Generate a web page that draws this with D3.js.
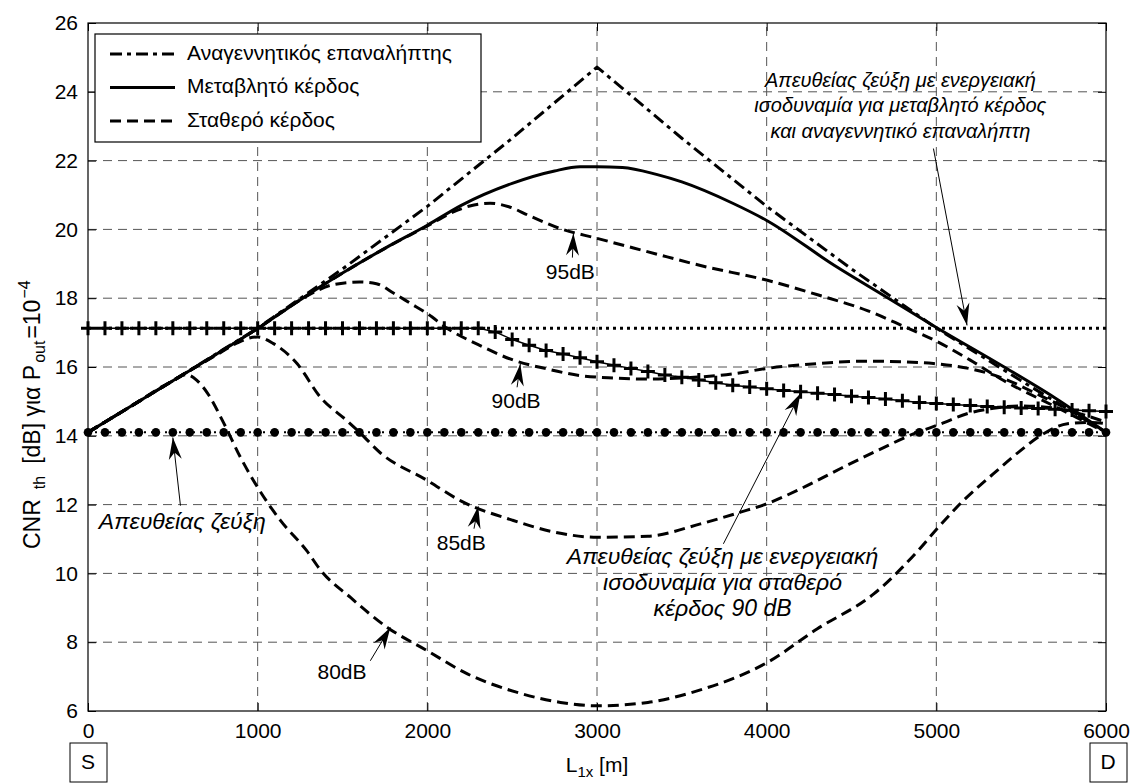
<!DOCTYPE html>
<html>
<head>
<meta charset="utf-8">
<script src="https://cdn.jsdelivr.net/npm/d3@7"></script>
<style>
  html, body { margin: 0; padding: 0; background: #fff; }
  svg { display: block; font-family: Arial, "Liberation Sans", Helvetica, sans-serif; }
</style>
</head>
<body>
<svg id="chart" width="1137" height="783"></svg>
<script>
// ---------------- data ----------------
const xTicks = [0, 1000, 2000, 3000, 4000, 5000, 6000];
const yTicks = [6, 8, 10, 12, 14, 16, 18, 20, 22, 24, 26];

// Regenerative repeater (dash-dot)
const regenX = [0, 500, 1000, 1500, 2000, 2500, 3000, 3500, 4000, 4500, 5000, 5500, 6000];
const regenY = [14.1, 15.6, 17.13, 18.85, 20.67, 22.65, 24.72, 22.65, 20.67, 18.85, 17.13, 15.6, 14.1];

// Variable gain (solid)
const varX = [0, 250, 500, 750, 1000, 1250, 1500, 1750, 2000, 2200, 2500, 2750, 2900, 3000, 3150, 3350, 3500, 3800, 4000, 4400, 4700, 5000, 5400, 5700, 6000];
const varY = [14.1, 14.85, 15.6, 16.35, 17.12, 17.95, 18.73, 19.45, 20.12, 20.7, 21.34, 21.7, 21.82, 21.82, 21.8, 21.6, 21.38, 20.76, 20.26, 18.95, 18.05, 17.15, 16.0, 15.1, 14.1];

// Fixed gain (dashed)
const fix95X = [0, 250, 500, 750, 1000, 1250, 1500, 1750, 2000, 2150, 2250, 2370, 2480, 2600, 2785, 3000, 3215, 3414, 3610, 4004, 4300, 4593, 4800, 5000, 5200, 5378, 5700, 6000];
const fix95Y = [14.1, 14.85, 15.6, 16.35, 17.12, 17.95, 18.73, 19.45, 20.1, 20.5, 20.68, 20.76, 20.66, 20.4, 20.02, 19.74, 19.46, 19.2, 18.95, 18.52, 18.1, 17.64, 17.2, 16.75, 16.2, 15.66, 14.85, 14.1];

const fix90X = [0, 250, 500, 750, 1000, 1250, 1350, 1450, 1600, 1700, 1800, 1900, 2000, 2118, 2300, 2507, 2700, 2902, 3100, 3300, 3500, 3800, 4004, 4300, 4593, 4800, 4983, 5200, 5378, 5600, 5800, 6000];
const fix90Y = [14.1, 14.85, 15.6, 16.35, 17.12, 17.95, 18.22, 18.4, 18.47, 18.42, 18.15, 17.85, 17.55, 17.12, 16.65, 16.2, 15.95, 15.75, 15.68, 15.65, 15.68, 15.8, 15.96, 16.1, 16.17, 16.15, 16.1, 15.95, 15.7, 15.2, 14.7, 14.1];

const fix85X = [0, 250, 500, 750, 880, 950, 1000, 1093, 1232, 1370, 1526, 1590, 1724, 2000, 2200, 2500, 2750, 3000, 3300, 3610, 3846, 4004, 4200, 4436, 4652, 4868, 5029, 5180, 5337, 5500, 5700, 6000];
const fix85Y = [14.1, 14.85, 15.6, 16.33, 16.7, 16.84, 16.87, 16.68, 16.1, 15.12, 14.44, 14.15, 13.5, 12.7, 12.1, 11.55, 11.2, 11.05, 11.08, 11.44, 11.78, 12.03, 12.46, 13.05, 13.57, 14.06, 14.35, 14.64, 14.8, 14.87, 14.8, 14.4];

const fix80X = [0, 250, 500, 580, 640, 703, 801, 898, 1000, 1134, 1289, 1370, 1547, 1764, 2000, 2236, 2530, 2785, 3000, 3300, 3600, 4000, 4299, 4633, 4892, 5010, 5160, 5337, 5496, 5632, 5773, 5908, 6000];
const fix80Y = [14.1, 14.85, 15.6, 15.78, 15.62, 15.25, 14.36, 13.38, 12.5, 11.54, 10.66, 10.1, 9.3, 8.43, 7.75, 7.08, 6.54, 6.25, 6.15, 6.25, 6.6, 7.4, 8.39, 9.41, 10.66, 11.33, 12.12, 12.9, 13.57, 14.06, 14.35, 14.39, 14.35];

// Marker positions (every 100 m)
const markerX = [0,100,200,300,400,500,600,700,800,900,1000,1100,1200,1300,1400,1500,1600,1700,1800,1900,2000,2100,2200,2300,2400,2500,2600,2700,2800,2900,3000,3100,3200,3300,3400,3500,3600,3700,3800,3900,4000,4100,4200,4300,4400,4500,4600,4700,4800,4900,5000,5100,5200,5300,5400,5500,5600,5700,5800,5900,6000];

// Direct link with energy equivalence for fixed gain 90 dB (plus markers)
const eqFixedY = [17.13,17.13,17.13,17.13,17.13,17.13,17.13,17.13,17.13,17.13,17.13,17.13,17.13,17.13,17.13,17.13,17.13,17.13,17.13,17.13,17.13,17.13,17.13,17.13,
  17.02,16.8,16.63,16.48,16.38,16.27,16.15,16.05,15.96,15.87,15.77,15.7,15.62,15.54,15.47,15.42,15.37,15.32,15.28,15.24,15.2,15.15,15.11,15.07,15.02,14.97,14.94,14.91,14.88,14.85,14.83,14.81,14.79,14.77,14.75,14.73,14.71];

// Direct link (big dots)
const directY = [14.1,14.1,14.1,14.1,14.1,14.1,14.1,14.1,14.1,14.1,14.1,14.1,14.1,14.1,14.1,14.1,14.1,14.1,14.1,14.1,14.1,14.1,14.1,14.1,14.1,14.1,14.1,14.1,14.1,14.1,14.1,
  14.1,14.1,14.1,14.1,14.1,14.1,14.1,14.1,14.1,14.1,14.1,14.1,14.1,14.1,14.1,14.1,14.1,14.1,14.1,14.1,14.1,14.1,14.1,14.1,14.1,14.1,14.1,14.1,14.1,14.1];

// Direct link with energy equivalence for variable gain and regenerative (dotted)
const eqVarX = [0, 6000];
const eqVarY = [17.13, 17.13];

const legendLabels = ["Αναγεννητικός επαναλήπτης", "Μεταβλητό κέρδος", "Σταθερό κέρδος"];

// Annotations: arrow = [tipX, tipY, tailX, tailY]
const gainLabels = [
  { text: "95dB", tx: 2843, ty: 18.71, arrow: [2861, 19.88, 2855, 19.18] },
  { text: "90dB", tx: 2523, ty: 14.98, arrow: [2548, 16.09, 2529, 15.41] },
  { text: "85dB", tx: 2200, ty: 10.85, arrow: [2300, 11.95, 2275, 11.3] },
  { text: "80dB", tx: 1497, ty: 7.08, arrow: [1782, 8.43, 1664, 7.46] }
];
const noteDirect = { lines: ["Απευθείας ζεύξη"], x: 556, y: [11.3], size: 23, arrow: [500, 13.95, 545, 11.97] };
const noteVar = { lines: ["Απευθείας ζεύξη με ενεργειακή", "ισοδυναμία για μεταβλητό κέρδος", "και αναγεννητικό επαναλήπτη"], x: 4788, y: [24.15, 23.41, 22.65], size: 20, arrow: [5181, 17.21, 4983, 22.35] };
const noteFixed = { lines: ["Απευθείας ζεύξη με ενεργειακή", "ισοδυναμία για σταθερό", "κέρδος 90 dB"], x: 3740, y: [10.28, 9.52, 8.76], size: 23, arrow: [4199, 15.23, 3745, 10.86] };

// ---------------- drawing ----------------
const W = 1137, H = 783;
const margin = { left: 88, right: 31, top: 23, bottom: 72 };
const svg = d3.select("#chart");
const x = d3.scaleLinear().domain([0, 6000]).range([margin.left, W - margin.right]);
const y = d3.scaleLinear().domain([6, 26]).range([H - margin.bottom, margin.top]);
const FS = 21;

// grid
const grid = svg.append("g");
grid.selectAll(".gx").data(xTicks.slice(1, -1)).join("line")
  .attr("x1", d => x(d)).attr("x2", d => x(d)).attr("y1", y(6)).attr("y2", y(26))
  .attr("stroke", "#555").attr("stroke-width", 1).attr("stroke-dasharray", "9,6");
grid.selectAll(".gy").data(yTicks.slice(1, -1)).join("line")
  .attr("y1", d => y(d)).attr("y2", d => y(d)).attr("x1", x(0)).attr("x2", x(6000))
  .attr("stroke", "#555").attr("stroke-width", 1).attr("stroke-dasharray", "9,6");

// axes
const axB = svg.append("g").attr("transform", `translate(0,${y(6)})`)
  .call(d3.axisBottom(x).tickValues(xTicks).tickSize(-8).tickPadding(12).tickFormat(d3.format("d")));
const axT = svg.append("g").attr("transform", `translate(0,${y(26)})`)
  .call(d3.axisTop(x).tickValues(xTicks).tickSize(-8).tickFormat(""));
const axL = svg.append("g").attr("transform", `translate(${x(0)},0)`)
  .call(d3.axisLeft(y).tickValues(yTicks).tickSize(-8).tickPadding(10));
const axR = svg.append("g").attr("transform", `translate(${x(6000)},0)`)
  .call(d3.axisRight(y).tickValues(yTicks).tickSize(-8).tickFormat(""));
[axB, axT, axL, axR].forEach(a => {
  a.select(".domain").remove();
  a.selectAll("line").attr("stroke", "#000").attr("stroke-width", 1);
  a.selectAll("text").attr("font-size", FS).attr("font-family", "Arial, 'Liberation Sans', sans-serif").attr("fill", "#000");
});
axB.selectAll("text").attr("dy", "0.71em");
svg.append("rect").attr("x", x(0)).attr("y", y(26)).attr("width", x(6000) - x(0)).attr("height", y(6) - y(26))
  .attr("fill", "none").attr("stroke", "#000").attr("stroke-width", 1.2);

// line generator
const lineGen = d3.line().x(d => x(d[0])).y(d => y(d[1]));
const zip = (a, b) => a.map((v, i) => [v, b[i]]);
const curves = svg.append("g");

function drawCurve(xs, ys, dash, curve, width) {
  curves.append("path")
    .attr("d", lineGen.curve(curve)(zip(xs, ys)))
    .attr("fill", "none").attr("stroke", "#000").attr("stroke-width", width || 3)
    .attr("stroke-dasharray", dash || null).attr("stroke-linejoin", "round");
}

// dotted 17.1 line
drawCurve(eqVarX, eqVarY, "3,4", d3.curveLinear, 3);
// direct link dotted line + dots
drawCurve(markerX, directY, "2,5", d3.curveLinear, 2);
curves.selectAll(".dot").data(zip(markerX, directY)).join("circle")
  .attr("cx", d => x(d[0])).attr("cy", d => y(d[1])).attr("r", 4.3).attr("fill", "#000");
// plus line
drawCurve(markerX, eqFixedY, null, d3.curveLinear, 1.5);
curves.selectAll(".plus").data(zip(markerX, eqFixedY)).join("path")
  .attr("d", d => `M${x(d[0]) - 7},${y(d[1])}h14M${x(d[0])},${y(d[1]) - 7}v14`)
  .attr("stroke", "#000").attr("stroke-width", 3).attr("fill", "none");

drawCurve(fix80X, fix80Y, "11,6", d3.curveMonotoneX);
drawCurve(fix85X, fix85Y, "11,6", d3.curveMonotoneX);
drawCurve(fix90X, fix90Y, "11,6", d3.curveMonotoneX);
drawCurve(fix95X, fix95Y, "11,6", d3.curveMonotoneX);
drawCurve(varX, varY, null, d3.curveMonotoneX);
drawCurve(regenX, regenY, "12,5,4,5", d3.curveLinear);

// arrows
function arrow(a) {
  const tx = x(a[0]), ty = y(a[1]), sx = x(a[2]), sy = y(a[3]);
  const ang = Math.atan2(ty - sy, tx - sx);
  svg.append("line").attr("x1", sx).attr("y1", sy).attr("x2", tx).attr("y2", ty)
    .attr("stroke", "#000").attr("stroke-width", 1);
  const L = 22, Wd = 6.5, back = 15;
  const ux = Math.cos(ang), uy = Math.sin(ang), px = -uy, py = ux;
  const p1 = [tx - ux * L + px * Wd, ty - uy * L + py * Wd];
  const p2 = [tx - ux * back, ty - uy * back];
  const p3 = [tx - ux * L - px * Wd, ty - uy * L - py * Wd];
  svg.append("path").attr("d", `M${tx},${ty}L${p1}L${p2}L${p3}Z`).attr("fill", "#000");
}
gainLabels.forEach(g => {
  arrow(g.arrow);
  svg.append("text").attr("x", x(g.tx)).attr("y", y(g.ty)).attr("text-anchor", "middle")
    .attr("dominant-baseline", "middle").attr("font-size", FS).text(g.text);
});
[noteDirect, noteVar, noteFixed].forEach(n => {
  arrow(n.arrow);
  n.lines.forEach((t, i) => {
    svg.append("text").attr("x", x(n.x)).attr("y", y(n.y[i])).attr("text-anchor", "middle")
      .attr("font-size", n.size).attr("font-style", "italic").text(t);
  });
});

// legend
const lg = svg.append("g");
lg.append("rect").attr("x", 95).attr("y", 34).attr("width", 386).attr("height", 108)
  .attr("fill", "#fff").attr("stroke", "#000").attr("stroke-width", 1.2);
const legDash = ["12,5,4,5", null, "11,6"];
legendLabels.forEach((t, i) => {
  const yy = 54 + i * 33.5;
  lg.append("line").attr("x1", 110).attr("x2", 175).attr("y1", yy).attr("y2", yy)
    .attr("stroke", "#000").attr("stroke-width", 3).attr("stroke-dasharray", legDash[i]);
  lg.append("text").attr("x", 187).attr("y", yy).attr("dominant-baseline", "middle")
    .attr("font-size", FS).text(t);
});

// axis labels
const xl = svg.append("text").attr("x", x(3000)).attr("y", 772).attr("text-anchor", "middle").attr("font-size", FS);
xl.append("tspan").text("L");
xl.append("tspan").attr("font-size", 15).attr("dy", 5).text("1x");
xl.append("tspan").attr("dy", -5).text(" [m]");

const yl = svg.append("text").attr("transform", `translate(40,549) rotate(-90)`)
  .attr("text-anchor", "start").attr("font-size", 23);
yl.append("tspan").text("CNR");
yl.append("tspan").attr("font-size", 16).attr("dx", 10).attr("dy", 5).text("th");
yl.append("tspan").attr("dx", 12).attr("dy", -5).text("[dB] για P");
yl.append("tspan").attr("font-size", 16).attr("dx", 2).attr("dy", 5).text("out");
yl.append("tspan").attr("dx", 2).attr("dy", -5).text("=10");
yl.append("tspan").attr("font-size", 16).attr("dx", 1).attr("dy", -10).text("−4");

// S / D boxes
[["S", 0, -1], ["D", 6000, 1]].forEach(([t, v, side]) => {
  const cx = side < 0 ? x(v) : x(v) + 2;
  svg.append("rect").attr("x", cx - 18).attr("y", 743).attr("width", 37).attr("height", 39)
    .attr("fill", "#fff").attr("stroke", "#000").attr("stroke-width", 1);
  svg.append("text").attr("x", cx).attr("y", 763).attr("text-anchor", "middle")
    .attr("dominant-baseline", "middle").attr("font-size", FS).text(t);
});
</script>
</body>
</html>
